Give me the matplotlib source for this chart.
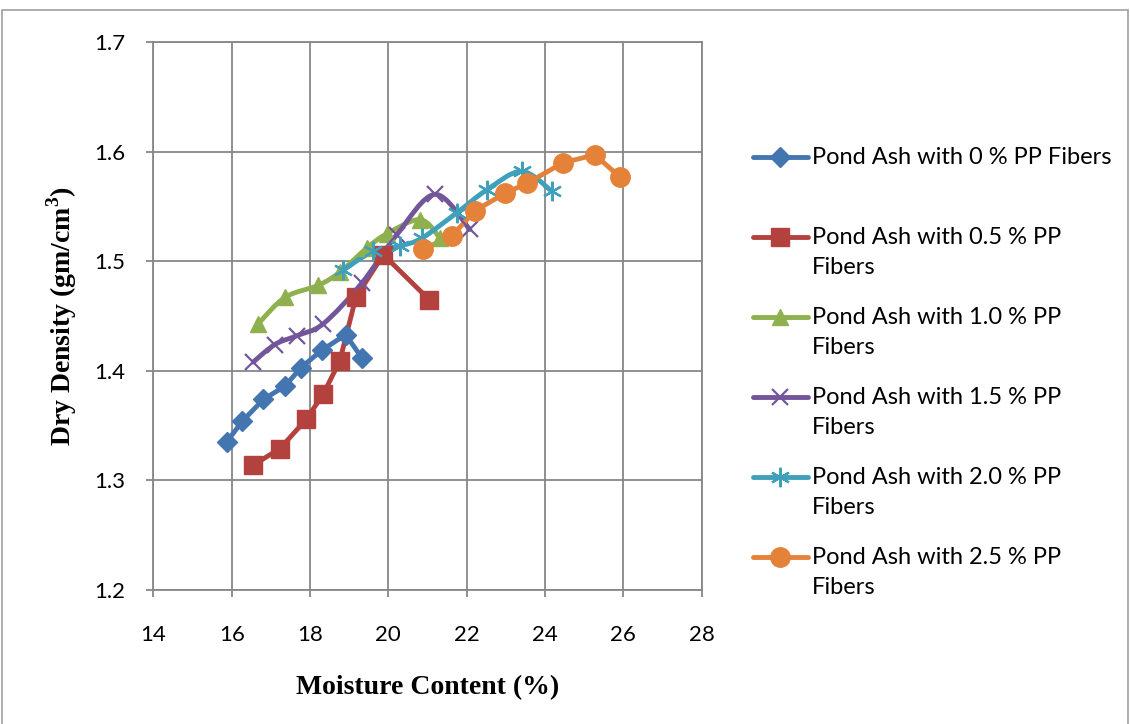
import matplotlib
matplotlib.use('Agg')
import matplotlib.pyplot as plt
from matplotlib.path import Path
from matplotlib.patches import PathPatch, Rectangle
from matplotlib.lines import Line2D
import numpy as np

# Moisture content (%) / dry density (gm/cm3) per fiber content
x_0 = [15.87, 16.27, 16.81, 17.36, 17.77, 18.31, 18.91, 19.32]
y_0 = [1.335, 1.354, 1.374, 1.386, 1.403, 1.419, 1.433, 1.412]

x_05 = [16.55, 17.23, 17.91, 18.34, 18.76, 19.17, 19.87, 21.04]
y_05 = [1.314, 1.329, 1.356, 1.379, 1.409, 1.467, 1.506, 1.465]

x_10 = [16.68, 17.36, 18.21, 18.76, 19.45, 19.96, 20.81, 21.32]
y_10 = [1.443, 1.467, 1.478, 1.490, 1.512, 1.525, 1.538, 1.521]

x_15 = [16.55, 17.10, 17.66, 18.34, 19.32, 20.21, 21.19, 22.08]
y_15 = [1.408, 1.424, 1.432, 1.443, 1.480, 1.524, 1.561, 1.529]

x_20 = [18.85, 19.61, 20.30, 20.85, 21.74, 22.51, 23.40, 24.17]
y_20 = [1.492, 1.509, 1.514, 1.521, 1.544, 1.565, 1.582, 1.564]

x_25 = [20.89, 21.62, 22.21, 22.98, 23.53, 24.47, 25.27, 25.91]
y_25 = [1.511, 1.523, 1.546, 1.562, 1.571, 1.590, 1.597, 1.577]

labels = ['Pond Ash with 0 % PP Fibers',
          'Pond Ash with 0.5 % PP\nFibers',
          'Pond Ash with 1.0 % PP\nFibers',
          'Pond Ash with 1.5 % PP\nFibers',
          'Pond Ash with 2.0 % PP\nFibers',
          'Pond Ash with 2.5 % PP\nFibers']

x_ticks = [14, 16, 18, 20, 22, 24, 26, 28]
y_ticks = [1.2, 1.3, 1.4, 1.5, 1.6, 1.7]

# style per series: color, marker, size, smooth
styles = [
    ('#4375b1', 'D', 10, False),
    ('#b3423f', 's', 13, False),
    ('#8fb04f', '^', 12, True),
    ('#73569a', 'x', 11, True),
    ('#3ea0ba', (6, 2, 0), 14, True),
    ('#e5823a', 'o', 14, False),
]
series = [(x_0, y_0), (x_05, y_05), (x_10, y_10),
          (x_15, y_15), (x_20, y_20), (x_25, y_25)]


def smooth_path(xs, ys):
    # Excel style smoothed line: cubic Bezier through the points
    p = np.column_stack([xs, ys])
    n = len(p)
    verts = [p[0]]
    codes = [Path.MOVETO]
    for i in range(n - 1):
        p0 = p[i - 1] if i > 0 else p[i]
        p3 = p[i + 2] if i + 2 < n else p[i + 1]
        c1 = p[i] + (p[i + 1] - p0) / 6.0
        c2 = p[i + 1] - (p3 - p[i]) / 6.0
        verts += [c1, c2, p[i + 1]]
        codes += [Path.CURVE4] * 3
    return Path(verts, codes)


fig = plt.figure(figsize=(11.3, 7.24), dpi=100)
ax = fig.add_axes([0.1357, 0.185, 0.4853, 0.757])

lw = 3.5
for (xs, ys), (col, mk, ms, smooth) in zip(series, styles):
    if smooth:
        ax.add_patch(PathPatch(smooth_path(xs, ys), fill=False, edgecolor=col,
                               lw=lw, capstyle='round', joinstyle='round', zorder=3))
    else:
        ax.plot(xs, ys, color=col, lw=lw, solid_capstyle='round', zorder=3)
    thin = mk in ('x',) or isinstance(mk, tuple)
    ax.plot(xs, ys, linestyle='none', marker=mk, markersize=ms,
            color=col, markeredgecolor=col, markeredgewidth=1.6 if thin else 1,
            zorder=4)

ax.set_xlim(14, 28)
ax.set_ylim(1.2, 1.7)
ax.set_xticks(x_ticks)
ax.set_yticks(y_ticks)
ax.set_yticklabels([f'{v:.1f}' for v in y_ticks])
ax.grid(True, color='#878787', lw=1.3)
ax.set_axisbelow(True)
for s in ax.spines.values():
    s.set_color('#878787')
    s.set_linewidth(1.3)
ax.tick_params(direction='out', length=5, width=1.3, color='#878787',
               labelsize=16)
ax.tick_params(axis='x', pad=20)
ax.tick_params(axis='y', pad=15)
for t in ax.get_xticklabels() + ax.get_yticklabels():
    t.set_family('Lato')

ax.set_xlabel('Moisture Content (%)', family='Liberation Serif',
              fontweight='bold', fontsize=20, labelpad=22)
ax.set_ylabel('Dry Density (gm/cm$^\\mathregular{3}$)', family='Liberation Serif',
              fontweight='bold', fontsize=20, labelpad=11)

# legend drawn at the right, handle aligned to first text line
W, H = 1130.0, 724.0
y_first = [157, 237, 317, 397, 477, 557]
for (col, mk, ms, smooth), lab, yp in zip(styles, labels, y_first):
    yf = 1 - yp / H
    thin = mk in ('x',) or isinstance(mk, tuple)
    fig.add_artist(Line2D([753 / W, 808 / W], [yf, yf], color=col, lw=lw,
                          solid_capstyle='round'))
    fig.add_artist(Line2D([780 / W], [yf], marker=mk, markersize=ms,
                          color=col, markeredgecolor=col,
                          markeredgewidth=1.6 if thin else 1, linestyle='none'))
    fig.text(812 / W, yf + 10 / H, lab, family='Lato', fontsize=17,
             va='top', ha='left', linespacing=1.55)

# outer chart border
fig.add_artist(Rectangle((0.0015, -0.01), 0.9965, 1 - 10 / H + 0.01,
                         transform=fig.transFigure, fill=False,
                         edgecolor='#a0a0a0', lw=1.2))

fig.savefig('out.png', dpi=100, facecolor='white')
